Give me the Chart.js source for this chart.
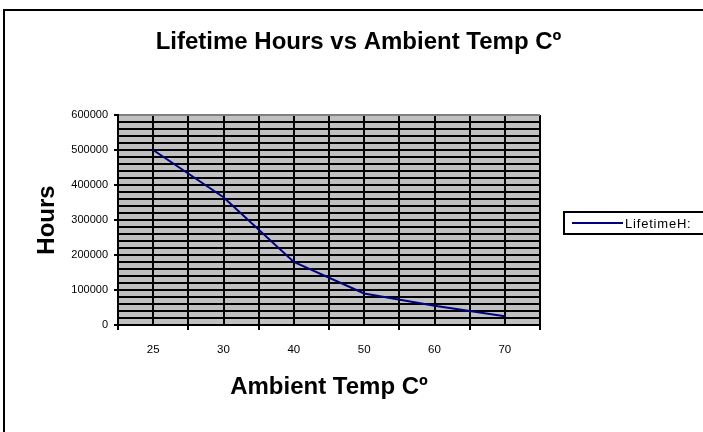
<!DOCTYPE html>
<html>
<head>
<meta charset="utf-8">
<script src="https://cdn.jsdelivr.net/npm/chart.js@4"></script>
<style>
  body { margin: 0; background: #fff; }
</style>
</head>
<body>
<canvas id="myChart" width="703" height="432"></canvas>
<script>
const categories = ['25', '30', '40', '50', '60', '70'];
const lifetimeHours = [500000, 365000, 180000, 90000, 55000, 25000];
const seriesName = 'LifetimeH:';
const yMax = 600000;
const yGridStep = 20000;
const yLabelStep = 100000;

const font = 'Liberation Sans, Arial, sans-serif';

// grey plot area, outer frame and the boxed legend
const excelLook = {
    id: 'excelLook',
    beforeDraw(chart) {
        const { ctx, chartArea: a } = chart;
        ctx.save();
        ctx.fillStyle = '#000';
        ctx.fillRect(3, 9, 2, 432);
        ctx.fillRect(3, 9, 700, 2);
        ctx.fillStyle = '#c0c0c0';
        ctx.fillRect(a.left, a.top, a.right - a.left, a.bottom - a.top);
        ctx.restore();
    },
    afterDraw(chart) {
        const { ctx } = chart;
        const ds = chart.data.datasets[0];
        ctx.save();
        ctx.strokeStyle = '#000';
        ctx.lineWidth = 2;
        ctx.strokeRect(564, 212, 160, 22);
        ctx.strokeStyle = ds.borderColor;
        ctx.beginPath();
        ctx.moveTo(572, 223);
        ctx.lineTo(623, 223);
        ctx.stroke();
        ctx.fillStyle = '#000';
        ctx.font = '13px ' + font;
        ctx.letterSpacing = '0.8px';
        ctx.textBaseline = 'middle';
        ctx.fillText(ds.label, 625, 224);
        ctx.restore();
    }
};

const ctx = document.getElementById('myChart').getContext('2d');
const myChart = new Chart(ctx, {
    type: 'line',
    data: {
        labels: categories,
        datasets: [{
            label: seriesName,
            data: lifetimeHours,
            borderColor: '#000080',
            borderWidth: 2,
            pointRadius: 0,
            tension: 0,
            fill: false
        }]
    },
    options: {
        responsive: false,
        animation: false,
        layout: { padding: { left: 14, right: 0, top: 0, bottom: 0 } },
        plugins: {
            legend: { display: false },
            tooltip: { enabled: false },
            title: {
                display: true,
                text: 'Lifetime Hours vs Ambient Temp Cº',
                color: '#000',
                font: { family: font, size: 24, weight: 'bold', lineHeight: 1.2 },
                padding: { top: 27.6, bottom: 58.6 }
            }
        },
        scales: {
            x: {
                type: 'category',
                offset: true,
                grid: {
                    offset: true,
                    color: (c) => c.index === categories.length ? '#808080' : '#000',
                    lineWidth: 2,
                    tickLength: 5,
                    tickColor: '#000',
                    tickWidth: 2
                },
                border: { color: '#000', width: 2 },
                ticks: {
                    color: '#000',
                    padding: 13,
                    maxRotation: 0,
                    font: { family: font, size: 11.5 }
                },
                title: {
                    display: true,
                    text: 'Ambient Temp Cº',
                    color: '#000',
                    font: { family: font, size: 24, weight: 'bold', lineHeight: 1.2 },
                    padding: { top: 0, bottom: 30.6 }
                },
                afterFit: (s) => { s.height = 107; }
            },
            x2: {
                type: 'category',
                position: 'top',
                offset: true,
                grid: { offset: false, color: '#000', lineWidth: 2, drawTicks: false },
                border: { display: false },
                ticks: { display: false },
                afterFit: (s) => { s.height = 0; }
            },
            y: {
                min: 0,
                max: yMax,
                grid: {
                    color: (c) => c.tick && c.tick.value === yMax ? '#808080' : '#000',
                    lineWidth: 2,
                    tickLength: 4,
                    tickWidth: 2,
                    tickColor: (c) => c.tick && c.tick.value % yLabelStep === 0 ? '#000' : 'rgba(0,0,0,0)'
                },
                border: { color: '#000', width: 2 },
                ticks: {
                    stepSize: yGridStep,
                    autoSkip: false,
                    color: '#000',
                    padding: 6,
                    font: { family: font, size: 11 },
                    callback: (v) => v % yLabelStep === 0 ? String(v) : ''
                },
                title: {
                    display: true,
                    text: 'Hours',
                    color: '#000',
                    font: { family: font, size: 24, weight: 'bold', lineHeight: 1.2 },
                    padding: { top: 18.6, bottom: 0 }
                },
                afterFit: (s) => { s.width = 104; }
            },
            // empty strip on the right that holds the legend
            yRight: {
                type: 'linear',
                position: 'right',
                grid: { display: false, drawOnChartArea: false },
                border: { display: false },
                ticks: { display: false },
                afterFit: (s) => { s.width = 163; }
            }
        }
    },
    plugins: [excelLook]
});
</script>
</body>
</html>
